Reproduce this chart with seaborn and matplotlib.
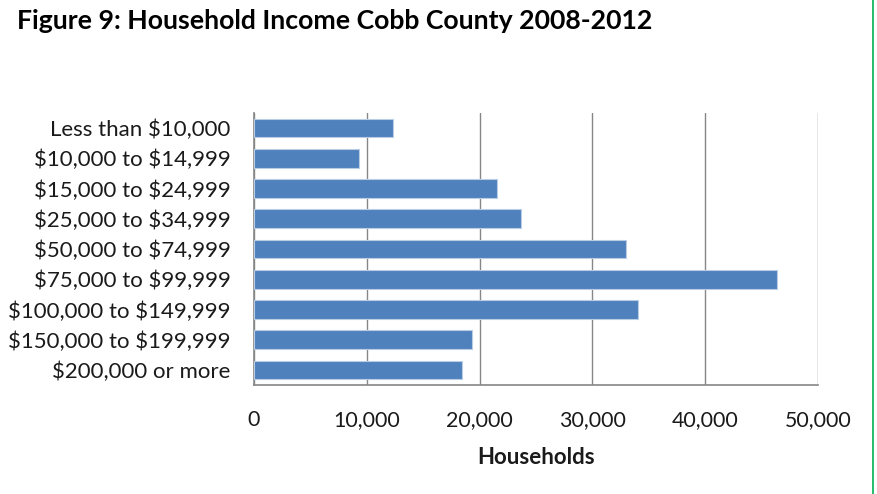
import matplotlib
matplotlib.use("Agg")
import matplotlib.pyplot as plt
import seaborn as sns
import pandas as pd
from matplotlib.ticker import FuncFormatter, FixedLocator
from matplotlib.lines import Line2D

# Household income brackets and number of households
income_brackets = [
    "Less than $10,000",
    "$10,000 to $14,999",
    "$15,000 to $24,999",
    "$25,000 to $34,999",
    "$50,000 to $74,999",
    "$75,000 to $99,999",
    "$100,000 to $149,999",
    "$150,000 to $199,999",
    "$200,000 or more",
]
households = [12340, 9310, 21540, 23630, 33000, 46350, 34010, 19340, 18400]
x_ticks = [0, 10000, 20000, 30000, 40000, 50000]

df = pd.DataFrame({"bracket": income_brackets, "households": households})

sns.set_theme(style="white")
plt.rcParams["font.family"] = ["Lato", "DejaVu Sans"]
plt.rcParams["text.parse_math"] = False

fig = plt.figure(figsize=(8.78, 4.94), dpi=100)
ax = fig.add_axes([0.2893, 0.2206, 0.6424, 0.5507])

sns.barplot(data=df, x="households", y="bracket", orient="h",
            color="#4F81BD", saturation=1, width=0.62,
            edgecolor="#B9CDE5", linewidth=0.8, ax=ax, zorder=3)

ax.set_xlim(0, 50000)
ax.set_ylim(len(income_brackets) - 0.5, -0.5)
ax.xaxis.set_major_locator(FixedLocator(x_ticks))
ax.xaxis.set_major_formatter(FuncFormatter(lambda v, p: f"{int(v):,}"))
ax.grid(axis="x", color="#868686", linewidth=1.0, zorder=0)
ax.grid(axis="y", visible=False)

for side in ["top", "right"]:
    ax.spines[side].set_visible(False)
for side in ["left", "bottom"]:
    ax.spines[side].set_color("#868686")
    ax.spines[side].set_linewidth(1.2)

ax.tick_params(axis="x", length=0, pad=18, labelsize=15.4, labelcolor="#1a1a1a")
ax.tick_params(axis="y", length=0, pad=17, labelsize=16, labelcolor="#1a1a1a")

ax.set_ylabel("")
ax.set_xlabel("Households", fontsize=16, fontweight="bold", color="#1a1a1a", labelpad=12)

fig.text(0.019, 0.957, "Figure 9: Household Income Cobb County 2008-2012",
         fontsize=19.2, fontweight="bold", color="black", va="center", ha="left")

# Page border on the right edge
fig.add_artist(Line2D([0.9943, 0.9943], [0, 1], transform=fig.transFigure,
                      color="#00B050", linewidth=1.2))

fig.savefig("out.png", dpi=100, facecolor="white")
